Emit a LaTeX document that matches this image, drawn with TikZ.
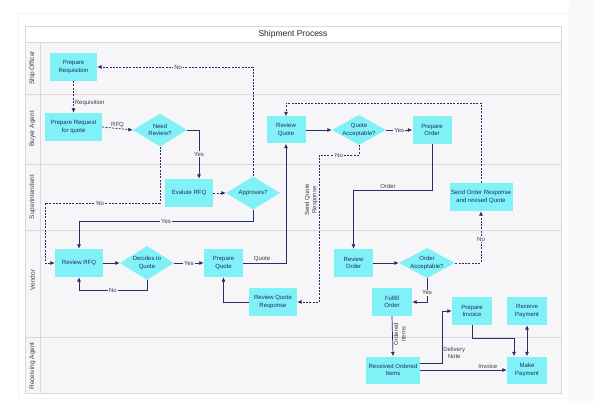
\documentclass[tikz,border=0pt]{standalone}
\usepackage{fontspec}
\setmainfont{Liberation Sans}
\usetikzlibrary{arrows.meta,shapes.geometric}
\definecolor{boxfill}{RGB}{128,242,247}
\definecolor{ink}{RGB}{44,44,108}
\definecolor{txt}{RGB}{30,45,95}
\definecolor{lanebg}{RGB}{246,246,248}
\definecolor{laneline}{RGB}{216,216,220}
\definecolor{lbltxt}{RGB}{60,60,72}
\definecolor{outerbg}{RGB}{249,249,250}
\tikzset{
  stepbox/.style={rectangle, fill=boxfill, inner sep=0pt, align=center,
    font=\fontsize{6}{7.6}\selectfont, text=txt},
  dtext/.style={align=center, font=\fontsize{6}{7.6}\selectfont, text=txt, inner sep=0pt},
  decision/.style={diamond, fill=boxfill, inner sep=0pt},
  flow/.style={draw=ink, line width=0.7pt, -{Latex[length=4.5pt,width=4pt]}},
  dflow/.style={flow, dash pattern=on 2pt off 1.3pt},
  elabel/.style={font=\fontsize{6}{7.4}\selectfont, text=lbltxt, inner sep=1pt},
  flabel/.style={elabel, fill=lanebg},
  lanetitle/.style={rotate=90, font=\fontsize{6.5}{8}\selectfont, text=lbltxt},
}
\begin{document}
\begin{tikzpicture}[x=1pt,y=-1pt]
\useasboundingbox (0,0) rectangle (593,403);
\fill[white] (0,0) rectangle (593,403);
\fill[outerbg] (569,0) rectangle (593,403);
\draw[gray!8] (18,13) rectangle (569,398);
% frame and lanes
\filldraw[fill=lanebg, draw=laneline] (25,26) rectangle (561,393);
\filldraw[fill=white, draw=laneline] (25,26) rectangle (561,42);
\node[font=\fontsize{8.5}{10}\selectfont, text=black!85] (title) at (293,34.5) {Shipment Process};
\foreach \yy in {94,164,230,337} \draw[laneline] (25,\yy) -- (561,\yy);
\draw[laneline] (40,42) -- (40,393);
\node[lanetitle] (l1) at (32.5,68) {Ship Officer};
\node[lanetitle] (l2) at (32.5,129) {Buyer Agent};
\node[lanetitle] (l3) at (32.5,197) {Superintendent};
\node[lanetitle] (l4) at (32.5,280) {Vendor};
\node[lanetitle] (l5) at (32.5,366) {Receiving Agent};
% nodes
\node[stepbox, minimum width=47pt, minimum height=28pt] (preq) at (73.5,67) {Prepare\\Requisition};
\node[stepbox, minimum width=57pt, minimum height=28pt] (prfq) at (73.5,127) {Prepare Request\\for quote};
\node[decision, minimum width=54pt, minimum height=33pt, label={[dtext]center:Need\\Review?}] (nr) at (160,130) {};
\node[stepbox, minimum width=48pt, minimum height=28pt] (ev) at (189,193) {Evalute RFQ};
\node[decision, minimum width=54pt, minimum height=33pt, label={[dtext]center:Approves?}] (ap) at (253,193) {};
\node[stepbox, minimum width=39pt, minimum height=27pt] (rq) at (286,130) {Review\\Quote};
\node[decision, minimum width=54pt, minimum height=30pt, label={[dtext]center:Quote\\Acceptable?}] (qa) at (359,130) {};
\node[stepbox, minimum width=39pt, minimum height=28pt] (po) at (432,130) {Prepare\\Order};
\node[stepbox, minimum width=63pt, minimum height=28pt] (sor) at (481,197) {Send Order Response\\and revised Quote};
\node[stepbox, minimum width=48pt, minimum height=28pt] (rr) at (79,263) {Review RFQ};
\node[decision, minimum width=54pt, minimum height=34pt, label={[dtext]center:Decides to\\Quote}] (dq) at (147,263) {};
\node[stepbox, minimum width=39pt, minimum height=28pt] (pq) at (223.5,263) {Prepare\\Quote};
\node[stepbox, minimum width=48pt, minimum height=28pt] (rqr) at (273,302) {Review Quote\\Response};
\node[stepbox, minimum width=39pt, minimum height=28pt] (ro) at (353.5,263) {Review\\Order};
\node[decision, minimum width=56pt, minimum height=30pt, label={[dtext]center:Order\\Acceptable?}] (oa) at (427,263) {};
\node[stepbox, minimum width=40pt, minimum height=28pt] (fo) at (392,302) {Fulfill\\Order};
\node[stepbox, minimum width=54pt, minimum height=27pt] (roi) at (393,370) {Received Ordered\\Items};
\node[stepbox, minimum width=40pt, minimum height=28pt] (pi) at (472,311) {Prepare\\Invoice};
\node[stepbox, minimum width=40pt, minimum height=28pt] (rp) at (527,311) {Receive\\Payment};
\node[stepbox, minimum width=40pt, minimum height=27pt] (mp) at (527,370) {Make\\Payment};
% helper coordinates
\coordinate (k4) at (199,130);
\coordinate (k6) at (45,203);
\coordinate (k7) at (79,221);
\coordinate (k10) at (79,290);
\coordinate (k14) at (319,155);
\coordinate (k16) at (353.5,190);
\coordinate (k19) at (286,103);
\coordinate (k22) at (442,311);
\coordinate (k24) at (514,338);
% connectors
\draw[dflow] (ap.north) |- node[flabel,pos=0.74]{No} (preq.east);
\draw[dflow] (preq.south) -- node[elabel, anchor=west, pos=0.68]{Requisition} (prfq.north);
\draw[dflow] (prfq.east) -- node[elabel, above]{RFQ} (nr.west);
\draw[flow] (nr.east) -- (k4) -- node[flabel]{Yes} (k4 |- ev.north);
\draw[dflow] (ev.east) -- (ap.west);
\draw[dflow] (nr.south) |- node[flabel,pos=0.76]{No} (k6) |- (rr.west);
\draw[flow] (ap.south) |- node[flabel,pos=0.75]{Yes} (k7) -- (rr.north);
\draw[flow] (rr.east) -- (dq.west);
\draw[flow] (dq.east) -- node[flabel]{Yes} (pq.west);
\draw[flow] (dq.south) |- node[flabel,pos=0.75]{No} (k10) -- (rr.south);
\draw[flow] (pq.east) -| node[elabel, above, pos=0.22]{Quote} (rq.south);
\draw[flow] (rq.east) -- (qa.west);
\draw[flow] (qa.east) -- node[flabel]{Yes} (po.west);
\draw[dflow] (qa.south) |- node[flabel,pos=0.75]{No} (k14)
  |- node[elabel, rotate=90, anchor=south, align=center, pos=0.153]{Send Quote\\Response} (rqr.east);
\draw[flow] (rqr.west) -| (pq.south);
\draw[flow] (po.south) |- node[elabel, above, pos=0.78]{Order} (k16) -- (ro.north);
\draw[flow] (ro.east) -- (oa.west);
\draw[dflow] (oa.east) -| node[flabel,pos=0.73]{No} (sor.south);
\draw[dflow] (sor.north) |- (k19) -- (rq.north);
\draw[flow] (oa.south) |- node[flabel,pos=0.31]{Yes} (fo.east);
\draw[flow] (fo.south) -- node[elabel, rotate=90, anchor=north, align=center, pos=0.45]{Ordered\\Items} (roi.north);
\draw[flow] ([yshift=7pt]roi.east) -| node[elabel, anchor=west, align=center, pos=0.6]{Delivery\\Note} (k22) -- (pi.west);
\draw[flow] (roi.east) -- node[elabel, above, pos=0.78]{Invoice} (mp.west);
\draw[flow] (pi.south) |- (k24) -- (k24 |- mp.north);
\draw[draw=ink, line width=0.7pt, {Latex[length=4.5pt,width=4pt]}-{Latex[length=4.5pt,width=4pt]}] (rp.south) -- (mp.north);
\end{tikzpicture}
\end{document}
